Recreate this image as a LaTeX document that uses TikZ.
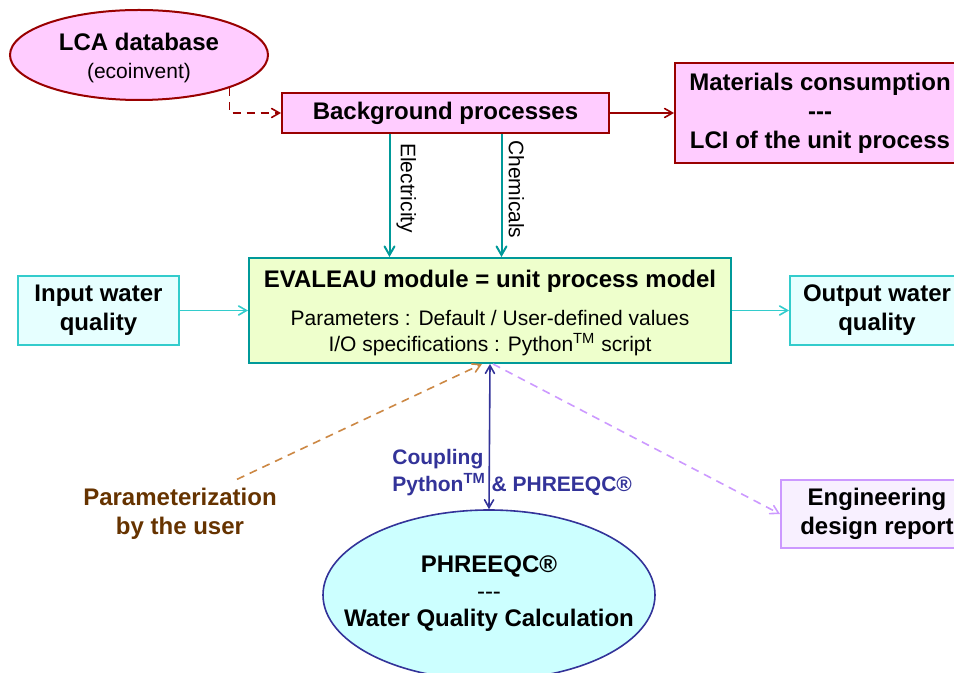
\documentclass[tikz,border=0pt]{standalone}
\usepackage{fontspec}
\setmainfont{Liberation Sans}
\usetikzlibrary{shapes.geometric,positioning,arrows}
\definecolor{lcared}{HTML}{990000}
\definecolor{lcapink}{HTML}{FFCCFF}
\definecolor{evteal}{HTML}{009999}
\definecolor{evgreen}{HTML}{EEFFCC}
\definecolor{wturq}{HTML}{33CCCC}
\definecolor{wcyan}{HTML}{E6FFFF}
\definecolor{phblue}{HTML}{333399}
\definecolor{phcyan}{HTML}{CCFFFF}
\definecolor{userbrown}{HTML}{663300}
\definecolor{userdash}{HTML}{CC8844}
\definecolor{replilac}{HTML}{CC99FF}
\definecolor{repfill}{HTML}{F8F0FF}
\tikzset{bigtext/.style={font=\fontsize{12}{14.4}\selectfont\bfseries}}
\tikzset{smalltext/.style={font=\fontsize{10.5}{13}\selectfont}}
\tikzset{lcabox/.style={draw=lcared,fill=lcapink,line width=1pt,bigtext,align=center,inner sep=0pt}}
\tikzset{waterbox/.style={draw=wturq,fill=wcyan,line width=1pt,bigtext,align=center,inner sep=0pt}}
\tikzset{flow/.style={->,>=angle 60,line width=0.8pt}}
\tikzset{dashflow/.style={flow,dash pattern=on 4pt off 3pt}}

\begin{document}
\begin{tikzpicture}[x=0.5pt,y=-0.5pt]
  \useasboundingbox (0,0) rectangle (954,673);
  \node[lcabox,ellipse,minimum width=129pt,minimum height=45pt] (lca) at (139,55) {};
  \node[bigtext,align=center] (lcatext) at (139,58)
    {LCA database\\{\mdseries\fontsize{10.5}{13}\selectfont(ecoinvent)}};
  \node[lcabox,minimum width=163.5pt,minimum height=20pt] (bg) at (445.5,113) {Background processes};
  \node[lcabox,minimum width=145pt,minimum height=50pt] (mat) at (820,113)
    {Materials consumption\\-{}-{}-\\LCI of the unit process};
  \node[draw=evteal,fill=evgreen,line width=1pt,minimum width=241pt,minimum height=52.5pt] (eva) at (490,310.5) {};
  \node[bigtext] (evatitle) at (490,281) {EVALEAU module = unit process model};
  \node[smalltext,align=center] (evatext) at (490,333)
    {Parameters : Default / User-defined values\\I/O specifications : Python\textsuperscript{TM} script};
  \node[waterbox,minimum width=80.5pt,minimum height=34.5pt] (inp) at (98.5,310.5) {Input water\\quality};
  \node[waterbox,minimum width=87pt,minimum height=34.5pt] (outp) at (877,310.5) {Output water\\quality};
  \node[draw=phblue,fill=phcyan,ellipse,line width=0.8pt,inner sep=0pt,
        minimum width=166pt,minimum height=85pt] (phq) at (489,595) {};
  \node[font=\fontsize{12}{13.5}\selectfont\bfseries,align=center] (phqtext) at (489,594)
    {PHREEQC\textregistered\\{\mdseries -{}-{}-}\\Water Quality Calculation};
  \node[bigtext,text=userbrown,align=center] (param) at (180,514) {Parameterization\\by the user};
  \node[draw=replilac,fill=repfill,line width=1pt,minimum width=96pt,minimum height=34pt,
        bigtext,align=center,inner sep=0pt] (eng) at (877,514) {Engineering\\design report};
  \node[font=\fontsize{10.5}{13.5}\selectfont\bfseries,text=phblue,align=left,anchor=west,inner sep=0pt]
    (cpl) at (392,473) {Coupling\\Python\textsuperscript{TM} \& PHREEQC\textregistered};

  \coordinate (elec) at ([xshift=-28pt]bg.south);
  \coordinate (chem) at ([xshift=28pt]bg.south);
  \coordinate (pstart) at ([xshift=28.5pt,yshift=1pt]param.north);

  \draw[dashflow,lcared] (lca.-20) |- (bg.west);
  \draw[flow,lcared] (bg.east) -- (mat.west);
  \draw[flow,evteal,line width=1pt] (elec) -- (elec |- eva.north);
  \draw[flow,evteal,line width=1pt] (chem) -- (chem |- eva.north);
  \path (elec) -- (elec |- eva.north)
    node[pos=0.44,anchor=south,rotate=-90,smalltext] (eleclabel) {Electricity};
  \path (chem) -- (chem |- eva.north)
    node[pos=0.45,anchor=south,rotate=-90,smalltext] (chemlabel) {Chemicals};
  \draw[flow,wturq] (inp.east) -- (eva.west);
  \draw[flow,wturq] (eva.east) -- (outp.west);
  \draw[<->,>=angle 60,phblue,line width=0.8pt] (eva.south) -- (phq.north);
  \draw[dashflow,userdash] (pstart) -- ([xshift=-4pt]eva.south);
  \draw[dashflow,replilac] ([xshift=1.5pt]eva.south) -- (eng.west);
\end{tikzpicture}
\end{document}
